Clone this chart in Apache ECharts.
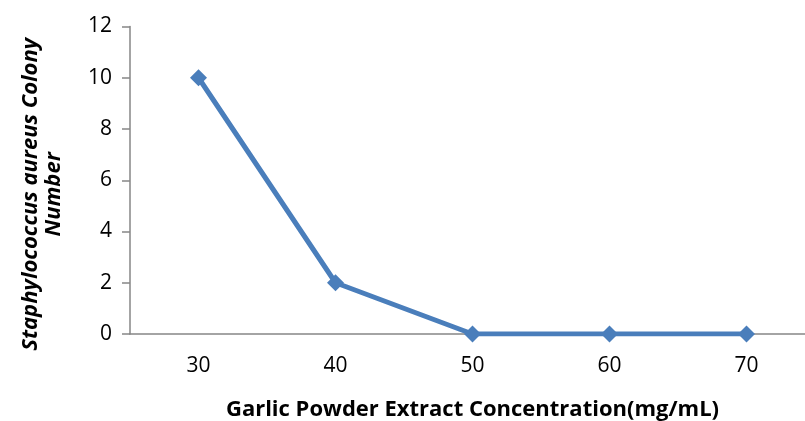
<!DOCTYPE html>
<html><head><meta charset="utf-8">
<script src="https://cdn.jsdelivr.net/npm/echarts@6/dist/echarts.min.js"></script>
<style>html,body{margin:0;padding:0;background:#fff}#c{width:805px;height:421px}</style>
</head><body><div id="c"></div>
<script>
const categories = ['30', '40', '50', '60', '70'];
const colonyNumber = [10, 2, 0, 0, 0];
const yTicks = { min: 0, max: 12, interval: 2 };
const xTitle = 'Garlic Powder Extract Concentration(mg/mL)';
const yTitle = 'Staphylococcus aureus Colony\nNumber';

const chart = echarts.init(document.getElementById('c'), null, { renderer: 'canvas' });
const font = 'Open Sans';
chart.setOption({
  animation: false,
  backgroundColor: '#fff',
  grid: { left: 130, top: 26.5, bottom: 87, right: -10, containLabel: false, outerBoundsMode: 'none' },
  xAxis: {
    type: 'category', data: categories, boundaryGap: true,
    name: xTitle, nameLocation: 'middle', nameGap: 65,
    nameTextStyle: { fontFamily: font, fontWeight: 'bold', fontSize: 22, color: '#000' },
    axisLine: { lineStyle: { color: '#868686', width: 1.5 } },
    axisTick: { show: false },
    axisLabel: { fontFamily: font, fontSize: 21, color: '#000', margin: 22 },
    splitLine: { show: false }
  },
  yAxis: {
    type: 'value', min: yTicks.min, max: yTicks.max, interval: yTicks.interval,
    name: yTitle, nameLocation: 'middle', nameGap: 65, nameRotate: 90,
    nameTextStyle: { fontFamily: font, fontWeight: 'bold', fontStyle: 'italic', fontSize: 22, color: '#000', lineHeight: 23, align: 'center', padding: [0, 28, 0, 0] },
    axisLine: { show: true, lineStyle: { color: '#868686', width: 1.5 } },
    axisTick: { show: true, inside: false, length: 8, lineStyle: { color: '#868686', width: 1.5 } },
    axisLabel: { fontFamily: font, fontSize: 21, color: '#000', margin: 18 },
    splitLine: { show: false }
  },
  series: [{
    type: 'line', data: colonyNumber,
    symbol: 'diamond', symbolSize: 17,
    lineStyle: { color: '#4a7ebb', width: 5 },
    itemStyle: { color: '#4a7ebb' }
  }]
});
</script></body></html>
